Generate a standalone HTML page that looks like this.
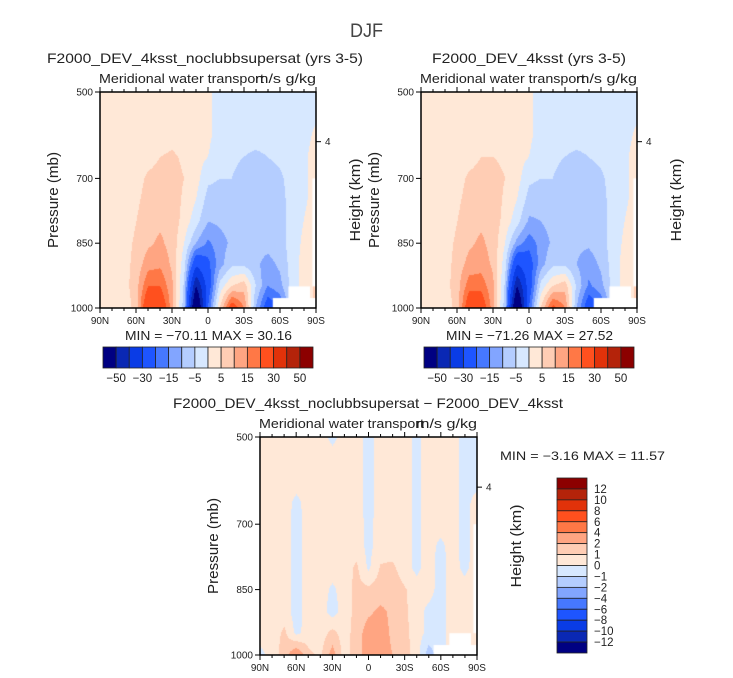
<!DOCTYPE html>
<html><head><meta charset="utf-8">
<style>
html,body{margin:0;padding:0;background:#fff;}
#wrap{position:relative;width:733px;height:678px;overflow:hidden;font-family:"Liberation Sans",sans-serif;}
canvas{position:absolute;}
svg{position:absolute;left:0;top:0;}
</style></head>
<body>
<div id="wrap">
<canvas id="c1" width="216" height="216" style="left:100px;top:92px"></canvas>
<canvas id="c2" width="216" height="216" style="left:421px;top:92px"></canvas>
<canvas id="c3" width="217" height="218" style="left:260px;top:437px"></canvas>
<svg id="s" width="733" height="678"></svg>
</div>
<script>
const lats=["90N","80N","70N","60N","50N","40N","30N","20N","10N","0","10S","20S","30S","40S","50S","60S","70S","80S","90S"];
const presLevels=[500,550,600,650,700,750,800,850,900,950,1000];
const field1=[
[2,2,2,2,2,2,2,2,2,1,-2,-2,-2,-2,-2,-2,-2,-2,-1],
[2,2,2,2,2,2,2,2,2,1,-2,-2,-2,-2,-2,-2,-2,-2,-1],
[2,2,2,2,2,2,3,2,2,1,-2,-3,-3,-3,-3,-2,-2,-2,1],
[2,2,2,2,3,5,6,4,2,0,-3,-4,-5,-6,-5,-4,-2,-1,2],
[2,2,2,3,6,7,7,5,2,-4,-5,-5,-7,-7,-7,-6,-3,-1,2],
[2,2,2,4,7,8,8,4,0,-7,-7,-6,-8,-8,-8,-7,-3,-1,2],
[2,2,2,5,8,9,8,3,-3,-10,-9,-8,-8,-8,-8,-7,-3,0,3],
[2,2,3,6,9,11,8,0,-10,-16,-12,-9,-8,-8,-8,-7,-3,1,4],
[2,2,3,7,13,14,9,-3,-28,-22,-12,-6,-6,-9,-12,-9,-3,2,5],
[2,2,3,8,20,20,11,-6,-50,-25,-3,5,8,-5,-15,-12,-3,2,6],
[1,1,2,7,30,28,12,-8,-70,-20,5,25,15,-10,-25,-20,-5,2,6]];
const field2=[
[2,2,2,2,2,2,2,2,2,1,-2,-2,-2,-2,-2,-2,-2,-2,-1],
[2,2,2,2,2,2,2,2,2,1,-2,-2,-2,-2,-2,-2,-2,-2,-1],
[2,2,2,2,2,2,3,2,2,1,-2,-3,-3,-3,-3,-2,-2,-2,1],
[2,2,2,2,3,5,5,4,2,0,-3,-4,-5,-6,-5,-4,-2,-1,2],
[2,2,2,3,6,7,7,5,2,-4,-5,-5,-7,-7,-7,-6,-3,-1,2],
[2,2,2,4,7,8,8,4,0,-7,-8,-6,-8,-8,-8,-7,-3,-1,2],
[2,2,2,5,8,9,8,3,-3,-11,-10,-8,-8,-8,-8,-7,-3,0,3],
[2,2,3,6,9,11,8,0,-12,-18,-13,-9,-8,-9,-9,-7,-3,1,4],
[2,2,3,7,12,13,9,-3,-30,-24,-12,-6,-6,-10,-13,-9,-3,2,5],
[2,2,3,8,18,18,11,-6,-50,-25,-3,5,8,-6,-16,-12,-3,2,6],
[1,1,2,7,27,26,12,-8,-71,-20,5,22,15,-10,-26,-20,-5,2,6]];
const fieldDiff=[
[.5,.5,.5,.5,.5,.5,-.3,.5,.5,-.5,.5,.5,.5,-.3,.5,.5,.5,-.5,-.5],
[.5,.5,.5,.5,.5,.5,.5,.5,.5,-.5,.5,.5,.5,-.3,.5,.5,.5,-.5,-.5],
[.5,.5,.5,.5,.5,.5,.5,.5,.5,-.5,.5,.5,.5,-.3,.5,.5,.5,-.5,-.5],
[.5,.5,.5,-.3,.5,.5,.5,.5,.5,-.5,.5,.5,.5,-.3,.5,.5,.5,-.5,.5],
[.5,.5,.5,-.5,.5,.5,.5,.5,.5,-.3,.5,.5,.5,-.3,.5,.5,.5,-.5,.5],
[.5,.5,.5,-.5,.5,.5,.5,.5,.5,-.3,.5,.5,.5,-.3,.5,-.3,.5,-.5,.5],
[.5,.5,.5,-.5,.5,.5,.5,.5,1.2,-.2,1.1,1.2,.5,-.3,.5,-.5,.5,-.3,.5],
[.5,.5,.5,-.5,.5,.5,-.2,.5,1.3,1.2,1.5,1.5,1.1,.5,.5,-.5,.5,.5,.5],
[.5,.5,.5,-.5,.5,.5,-.5,.5,1.3,1.8,2.2,1.8,1.2,.5,-.3,-.5,.5,.5,.5],
[.5,.5,1.2,-.3,.5,.5,1.3,.5,1.5,2.5,2.5,1.8,1.3,.5,-.3,-.5,.5,.5,.5],
[-.3,.5,1.5,3,1.2,.8,2.5,.5,1.5,2.5,2.5,2,1.5,.5,-1.5,-.5,.5,.5,.5]];
const levelsMain=[-50,-40,-30,-20,-15,-10,-5,0,5,10,15,20,30,40,50];
const levelsDiff=[-12,-10,-8,-6,-4,-2,-1,0,1,2,4,6,8,10,12];
const mainLabels=["-50","-30","-15","-5","5","15","30","50"];
const diffLabels=["12","10","8","6","4","2","1","0","-1","-2","-4","-6","-8","-10","-12"];
const colors=["#000082","#0a28b4","#0a3ce6","#1e55ff","#4678ff","#82a5ff","#b4cdff","#d7e8ff","#ffe8d7","#ffcdb4","#ffa582","#ff7846","#ff501e","#e1320a","#b4230a","#8c0000"];

function colorFor(v,lv){let i=0;while(i<lv.length&&v>=lv[i])i++;return colors[i];}
function interp(f,fx,fy){
  const i=Math.min(17,Math.floor(fx)),j=Math.min(9,Math.floor(fy));
  const a=fx-i,b=fy-j;
  return f[j][i]*(1-a)*(1-b)+f[j][i+1]*a*(1-b)+f[j+1][i]*(1-a)*b+f[j+1][i+1]*a*b;
}
function hexToRgb(h){return [parseInt(h.substr(1,2),16),parseInt(h.substr(3,2),16),parseInt(h.substr(5,2),16)];}
function drawField(id,f,lv){
  const c=document.getElementById(id),ctx=c.getContext('2d');
  const W=c.width,H=c.height,img=ctx.createImageData(W,H);
  for(let y=0;y<H;y++)for(let x=0;x<W;x++){
    const fx=x/(W-1)*(lats.length-1), fy=y/(H-1)*(presLevels.length-1);
    const rgb=hexToRgb(colorFor(interp(f,fx,fy),lv));
    const k=(y*W+x)*4;img.data[k]=rgb[0];img.data[k+1]=rgb[1];img.data[k+2]=rgb[2];img.data[k+3]=255;
  }
  ctx.putImageData(img,0,0);
  ctx.fillStyle="#fff";
  const xs=l=>(l+90)/180*W, ys=p=>(p-500)/500*H;
  ctx.fillRect(xs(54),ys(977),W-xs(54),H-ys(977));
  ctx.fillRect(xs(67),ys(950),xs(85)-xs(67),H-ys(950));
  ctx.fillRect(xs(87),ys(700),W-xs(87),ys(950)-ys(700));
}
drawField('c1',field1,levelsMain);
drawField('c2',field2,levelsMain);
drawField('c3',fieldDiff,levelsDiff);

const NS="http://www.w3.org/2000/svg",s=document.getElementById('s');
function el(t,a,txt){const e=document.createElementNS(NS,t);for(const k in a)e.setAttribute(k,a[k]);if(txt!==undefined)e.textContent=txt;s.appendChild(e);return e;}
function txt(x,y,t,size,anchor,name,extra){const e=el('text',Object.assign({x:x,y:y,'font-size':size,'text-anchor':anchor||'middle',fill:'#222','font-family':'Liberation Sans, sans-serif'},extra||{}),t);

return e;}
function fit(x,y,t,size,width,anchor,name){return txt(x,y,t,size,anchor,name,{textLength:width,lengthAdjust:'spacingAndGlyphs'});}

el('text',{x:350,y:37,'font-size':19,fill:'#444','font-family':'Liberation Sans, sans-serif',textLength:33,lengthAdjust:'spacingAndGlyphs',},'DJF');

function axes(x0,y0,w,h,title,tx,tw,tcy,minmax,name){
  el('rect',{x:x0,y:y0,width:w,height:h,fill:'none',stroke:'#000','stroke-width':1.5,});
  fit(tx,tcy,title,14,tw,'start',name+'-title');
  fit(x0-1,y0-9,'Meridional water transport',13,165,'start',name+'-variable-label');
  fit(x0+w-61,y0-9,'m/s g/kg',13,61,'start',name+'-units-label');
  for(let i=0;i<lats.length;i++){
    const x=x0+i*w/(lats.length-1);
    el('line',{x1:x,y1:y0,x2:x,y2:y0-(i%3==0?5:3),stroke:'#000','stroke-width':1,});
    el('line',{x1:x,y1:y0+h,x2:x,y2:y0+h+(i%3==0?5:3),stroke:'#000','stroke-width':1,});
    if(i%3==0)txt(x,y0+h+16,lats[i],10,'middle',name+'-x-tick-label');
  }
  [500,700,850,1000].forEach(p=>{
    const y=y0+(p-500)/500*h;
    el('line',{x1:x0,y1:y,x2:x0-5,y2:y,stroke:'#000',});
    txt(x0-7,y+3.5,String(p),10,'end',name+'-y-tick-label');
  });
  const y4=y0+(615-500)/500*h;
  el('line',{x1:x0+w,y1:y4,x2:x0+w+5,y2:y4,stroke:'#000',});
  txt(x0+w+9,y4+3.5,'4',10,'start',name+'-height-tick-label');
  txt(0,0,'Pressure (mb)',15,'middle',name+'-y-axis-title',{transform:`translate(${x0-42},${y0+h/2}) rotate(-90)`,textLength:96,lengthAdjust:'spacingAndGlyphs'});
  txt(0,0,'Height (km)',15,'middle',name+'-right-axis-title',{transform:`translate(${x0+w+44},${y0+h/2}) rotate(-90)`,textLength:83,lengthAdjust:'spacingAndGlyphs'});
  if(minmax)txt(x0+25,y0+h+32,minmax,13,'start',name+'-min-max',{'xml:space':'preserve',textLength:167,lengthAdjust:'spacingAndGlyphs'});
}
axes(100,92,216,216,'F2000_DEV_4ksst_noclubbsupersat (yrs 3-5)',47,316,63,'MIN = −70.11   MAX =  30.16','panel1');
axes(421,92,216,216,'F2000_DEV_4ksst (yrs 3-5)',432,194,63,'MIN = −71.26   MAX =  27.52','panel2');
axes(260,437,217,218,'F2000_DEV_4ksst_noclubbsupersat − F2000_DEV_4ksst',173,390,408,null,'panel3');
txt(500,460,'MIN =   −3.16   MAX =   11.57',12,'start','panel3-min-max',{'xml:space':'preserve',textLength:165,lengthAdjust:'spacingAndGlyphs'});

function hbar(x0,y0,w,h,name){
  const bw=w/colors.length;
  colors.forEach((c,i)=>{const r=el('rect',{x:x0+i*bw,y:y0,width:bw,height:h,fill:c,stroke:'#222','stroke-width':0.8});
    });
  mainLabels.forEach((l,k)=>{txt(x0+(2*k+1)*bw,y0+h+14,l.replace('-','−'),11.5,'middle',name+'-label');});
}
hbar(103,347,210,21,'colorbar1');
hbar(424,347,210,21,'colorbar2');
(function(){
  const x0=557,y0=478,w=30,h=175,bh=h/colors.length;
  for(let i=0;i<colors.length;i++){const r=el('rect',{x:x0,y:y0+i*bh,width:w,height:bh,fill:colors[colors.length-1-i],stroke:'#222','stroke-width':0.8});
    }
  diffLabels.forEach((l,k)=>{txt(x0+w+7,y0+(k+1)*bh+4,l.replace('-','−'),11.5,'start','colorbar-diff-label');});
})();
</script>
</body></html>
